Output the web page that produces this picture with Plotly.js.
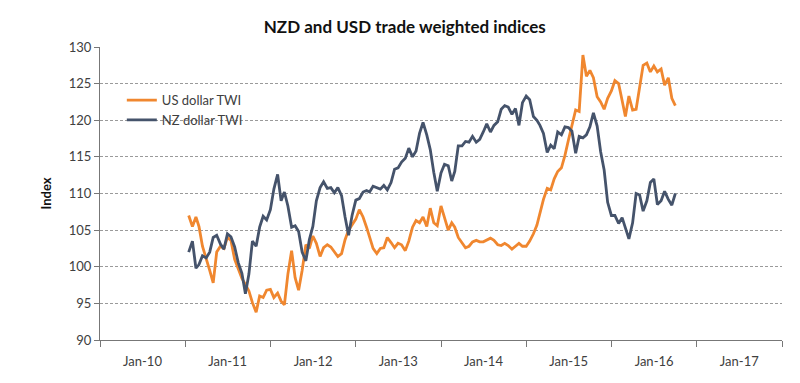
<!DOCTYPE html>
<html>
<head>
<meta charset="utf-8">
<script src="https://cdn.plot.ly/plotly-3.0.1.min.js"></script>
<style>html,body{margin:0;padding:0;background:#fff;}#chart{width:800px;height:383px;}</style>
</head>
<body>
<div id="chart"></div>
<script>
const dates = [
"2011-01-16","2011-02-01","2011-02-16","2011-03-01","2011-03-16","2011-04-01","2011-04-16","2011-05-01","2011-05-16","2011-06-01","2011-06-16","2011-07-01","2011-07-16","2011-08-01","2011-08-16","2011-09-01","2011-09-16","2011-10-01","2011-10-16","2011-11-01","2011-11-16","2011-12-01","2011-12-16",
"2012-01-01","2012-01-16","2012-02-01","2012-02-16","2012-03-01","2012-03-16","2012-04-01","2012-04-16","2012-05-01","2012-05-16","2012-06-01","2012-06-16","2012-07-01","2012-07-16","2012-08-01","2012-08-16","2012-09-01","2012-09-16","2012-10-01","2012-10-16","2012-11-01","2012-11-16","2012-12-01","2012-12-16",
"2013-01-01","2013-01-16","2013-02-01","2013-02-16","2013-03-01","2013-03-16","2013-04-01","2013-04-16","2013-05-01","2013-05-16","2013-06-01","2013-06-16","2013-07-01","2013-07-16","2013-08-01","2013-08-16","2013-09-01","2013-09-16","2013-10-01","2013-10-16","2013-11-01","2013-11-16","2013-12-01","2013-12-16",
"2014-01-01","2014-01-16","2014-02-01","2014-02-16","2014-03-01","2014-03-16","2014-04-01","2014-04-16","2014-05-01","2014-05-16","2014-06-01","2014-06-16","2014-07-01","2014-07-16","2014-08-01","2014-08-16","2014-09-01","2014-09-16","2014-10-01","2014-10-16","2014-11-01","2014-11-16","2014-12-01","2014-12-16",
"2015-01-01","2015-01-16","2015-02-01","2015-02-16","2015-03-01","2015-03-16","2015-04-01","2015-04-16","2015-05-01","2015-05-16","2015-06-01","2015-06-16","2015-07-01","2015-07-16","2015-08-01","2015-08-16","2015-09-01","2015-09-16","2015-10-01","2015-10-16","2015-11-01","2015-11-16","2015-12-01","2015-12-16",
"2016-01-01","2016-01-16","2016-02-01","2016-02-16","2016-03-01","2016-03-16","2016-04-01","2016-04-16","2016-05-01","2016-05-16","2016-06-01","2016-06-16","2016-07-01","2016-07-16","2016-08-01","2016-08-16","2016-09-01","2016-09-16","2016-10-01"
];

const usdTWI = [
107.0,105.5,106.8,105.5,102.8,101.2,99.5,97.8,102.0,102.8,102.5,104.0,103.6,101.0,99.8,98.4,97.6,96.7,95.1,93.8,96.0,95.8,96.8,
96.9,95.8,96.4,95.3,94.8,99.0,102.2,98.5,96.8,99.5,103.0,102.5,104.2,103.2,101.4,102.6,103.0,102.7,102.0,101.4,101.8,103.7,105.0,105.7,
106.5,107.8,106.8,105.4,104.0,102.5,101.8,102.5,102.6,104.0,103.3,102.6,103.2,103.0,102.2,103.5,105.4,106.3,106.0,106.8,105.5,108.0,106.0,105.6,
108.3,106.6,105.0,106.0,105.4,104.0,103.2,102.6,102.8,103.4,103.6,103.4,103.4,103.6,103.9,103.6,103.0,102.9,103.2,102.9,102.4,102.8,103.2,102.8,
102.8,103.5,104.5,105.7,107.3,109.2,110.7,110.5,112.0,113.0,113.5,115.2,117.3,119.4,121.4,121.2,128.9,126.0,126.8,125.8,123.2,122.5,121.5,123.0,
124.0,125.4,125.0,122.7,120.5,123.3,121.4,121.5,124.8,127.5,127.8,126.6,127.4,126.6,127.0,124.8,125.8,123.0,122.0
];

const nzdTWI = [
102.0,103.5,99.8,100.3,101.5,101.2,102.0,104.0,104.3,103.1,102.4,104.5,104.1,102.7,100.6,99.1,96.3,99.0,103.5,102.8,105.4,106.9,106.4,
107.8,110.6,112.6,109.0,110.2,108.3,105.4,105.6,104.8,102.0,100.8,103.7,105.5,109.0,110.8,111.6,110.7,110.8,110.1,110.8,109.7,106.8,104.3,107.0,
109.1,109.3,110.2,110.4,110.2,111.0,110.8,110.6,111.1,110.5,111.5,113.3,113.5,114.3,114.8,116.2,115.0,115.8,118.2,119.7,118.0,116.0,112.9,110.3,
112.8,114.0,113.8,111.7,113.0,116.5,116.5,117.1,117.0,117.8,117.0,117.4,118.4,119.5,118.4,119.3,119.8,121.5,122.0,121.8,120.8,121.6,119.3,122.4,
123.3,122.8,120.5,120.0,119.3,118.2,115.6,116.6,116.1,118.4,118.0,119.1,119.0,118.5,115.5,117.8,117.6,118.0,119.1,121.0,119.2,115.7,113.2,108.8,
107.0,107.0,105.9,106.7,105.3,103.8,106.0,110.0,109.8,107.6,109.0,111.5,112.0,108.5,109.0,110.3,109.2,108.4,110.0
];

const seriesNames = ["US dollar TWI", "NZ dollar TWI"];
const chartTitle = "NZD and USD trade weighted indices";
const yTitle = "Index";
// year boundaries (tick marks) and label positions (middle of each year)
const yearStarts = ["2010-01-01","2011-01-01","2012-01-01","2013-01-01","2014-01-01","2015-01-01","2016-01-01","2017-01-01","2018-01-01"];
const labelDates = ["2010-07-02","2011-07-02","2012-07-02","2013-07-02","2014-07-02","2015-07-02","2016-07-02","2017-07-02"];
const labelText = ["Jan-10","Jan-11","Jan-12","Jan-13","Jan-14","Jan-15","Jan-16","Jan-17"];

const traces = [
  {x: dates, y: usdTWI, name: seriesNames[0], type: "scatter", mode: "lines",
   line: {color: "#F0872F", width: 2.8}},
  {x: dates, y: nzdTWI, name: seriesNames[1], type: "scatter", mode: "lines",
   line: {color: "#45536B", width: 2.8}}
];

const layout = {
  width: 800, height: 383,
  margin: {l: 100, r: 18, t: 47, b: 43},
  paper_bgcolor: "#fff", plot_bgcolor: "#fff",
  font: {family: "Lato, 'Open Sans', sans-serif", color: "#404040", size: 13},
  title: {text: "<b>" + chartTitle + "</b>", x: 0.506, xref: "container", xanchor: "center",
          y: 0.93, yref: "container", yanchor: "middle",
          font: {family: "Lato, 'Open Sans', sans-serif", size: 17, color: "#111"}},
  showlegend: true,
  legend: {x: 0.032, y: 0.87, xanchor: "left", yanchor: "top", bgcolor: "rgba(0,0,0,0)",
           font: {size: 13, color: "#404040"}, itemwidth: 30, tracegroupgap: 0},
  xaxis: {
    type: "date", range: ["2010-01-01", "2018-01-01"],
    tickmode: "array", tickvals: labelDates, ticktext: labelText,
    ticks: "outside", ticklen: 9, tickcolor: "rgba(0,0,0,0)",
    minor: {tickmode: "array", tickvals: yearStarts, ticks: "outside", ticklen: 6,
            tickcolor: "#777", tickwidth: 1, showgrid: false},
    showline: true, linecolor: "#777", linewidth: 1,
    showgrid: false, zeroline: false,
    tickfont: {size: 13, color: "#404040"}
  },
  yaxis: {
    range: [90, 130], dtick: 5, tick0: 90,
    ticks: "outside", ticklen: 5, tickcolor: "#777",
    showline: true, linecolor: "#777", linewidth: 1,
    showgrid: true, gridcolor: "#9a9a9a", gridwidth: 1, griddash: "3px,2px",
    zeroline: false,
    tickfont: {size: 13, color: "#404040"},
    title: {text: "<b>" + yTitle + "</b>", standoff: 14, font: {size: 13, color: "#111"}}
  }
};

Plotly.newPlot("chart", traces, layout, {displayModeBar: false, staticPlot: true});
</script>
</body>
</html>
